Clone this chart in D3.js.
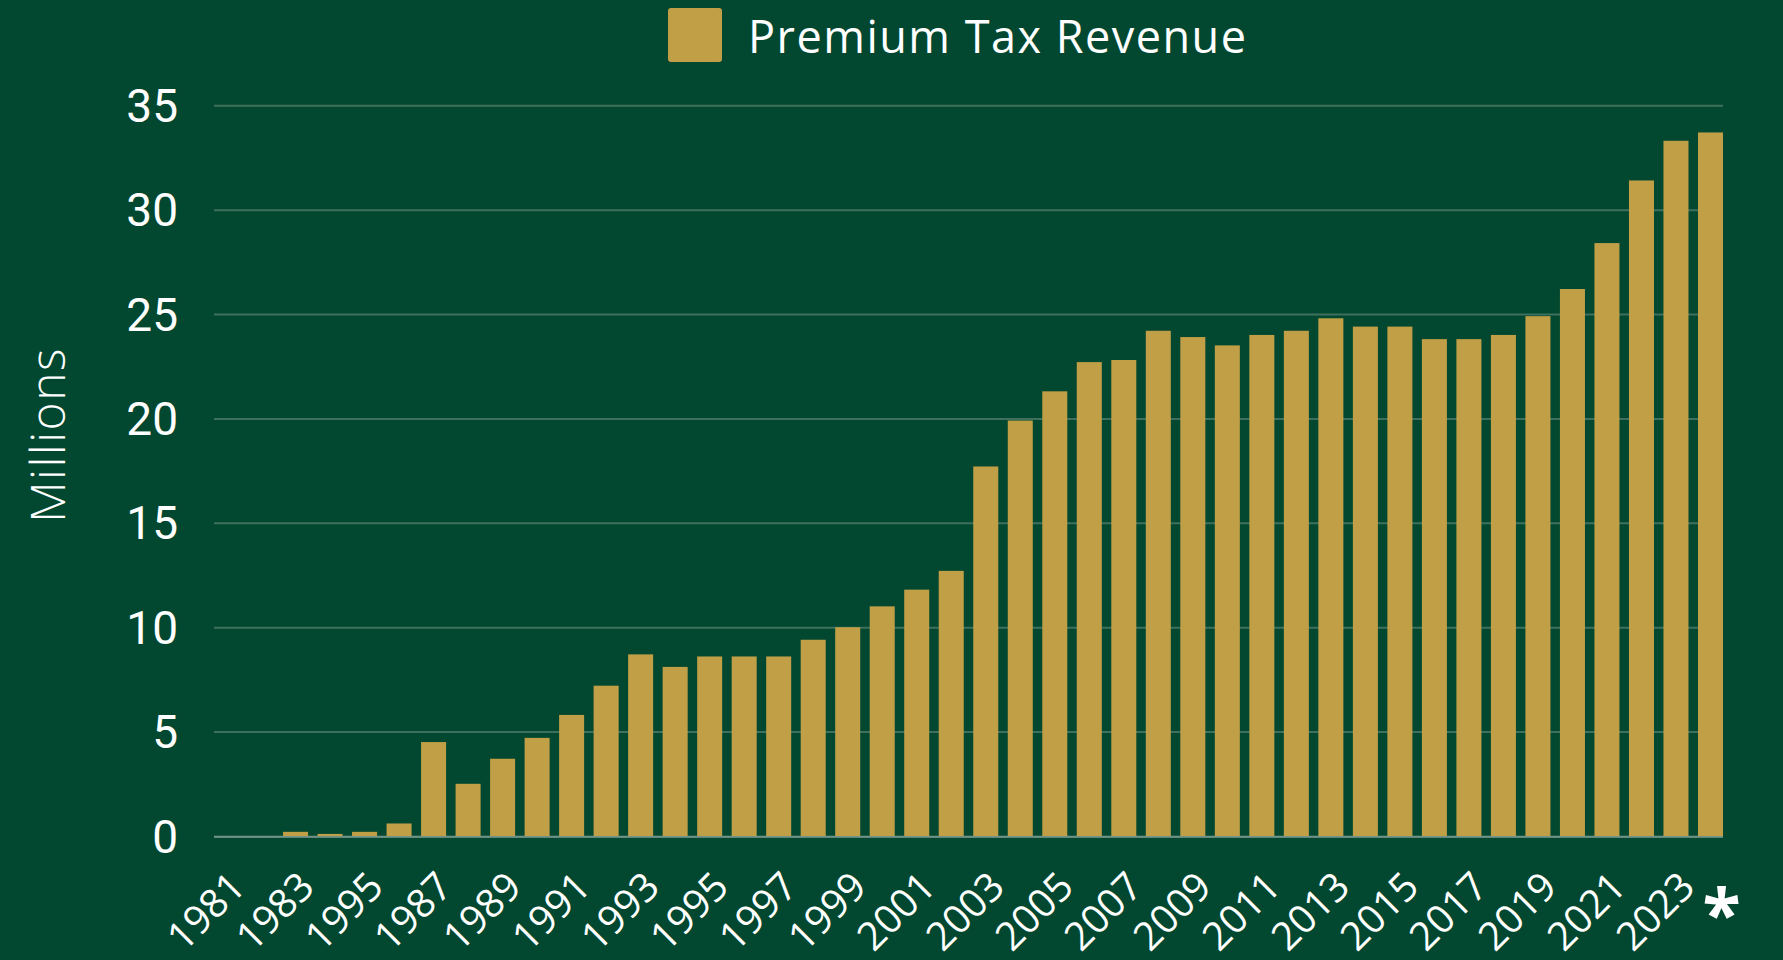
<!DOCTYPE html>
<html>
<head>
<meta charset="utf-8">
<script src="https://cdn.jsdelivr.net/npm/d3@7"></script>
<style>
    html, body { margin: 0; padding: 0; background: #02472f; overflow: hidden; }
    svg { display: block; }
</style>
</head>
<body>
<svg id="chart" width="1783" height="960"></svg>
<script>

// Categories (one bar per year)
var years = ["1981", "1982", "1983", "1984", "1985", "1986", "1987", "1988", "1989", "1990",
             "1991", "1992", "1993", "1994", "1995", "1996", "1997", "1998", "1999", "2000",
             "2001", "2002", "2003", "2004", "2005", "2006", "2007", "2008", "2009", "2010",
             "2011", "2012", "2013", "2014", "2015", "2016", "2017", "2018", "2019", "2020",
             "2021", "2022", "2023", "2024"];

// Premium tax revenue, millions
var revenue = [0, 0, 0.2, 0.1, 0.2, 0.6, 4.5, 2.5, 3.7, 4.7,
               5.8, 7.2, 8.7, 8.1, 8.6, 8.6, 8.6, 9.4, 10.0, 11.0,
               11.8, 12.7, 17.7, 19.9, 21.3, 22.7, 22.8, 24.2, 23.9, 23.5,
               24.0, 24.2, 24.8, 24.4, 24.4, 23.8, 23.8, 24.0, 24.9, 26.2,
               28.4, 31.4, 33.3, 33.7];

// Labelled ticks on the x axis (the chart prints "1995" under 1985)
var tickYears  = ["1981", "1983", "1985", "1987", "1989", "1991", "1993", "1995", "1997", "1999", "2001",
                  "2003", "2005", "2007", "2009", "2011", "2013", "2015", "2017", "2019", "2021", "2023"];
var tickLabels = ["1981", "1983", "1995", "1987", "1989", "1991", "1993", "1995", "1997", "1999", "2001",
                  "2003", "2005", "2007", "2009", "2011", "2013", "2015", "2017", "2019", "2021", "2023"];

var yTicks = [0, 5, 10, 15, 20, 25, 30, 35];
var seriesName = "Premium Tax Revenue";

var gold = '#c19f47';

var svg = d3.select('#chart');

svg.append('rect')
    .attr('width', 1783)
    .attr('height', 960)
    .attr('fill', '#02472f');

var x = d3.scaleBand()
    .domain(years)
    .range([214, 1723])
    .paddingInner(0.275)
    .paddingOuter(0);

var y = d3.scaleLinear()
    .domain([0, 35])
    .range([836, 105.3]);

//--------------------------------------------------------------
// Grid + y axis

var yAxis = d3.axisLeft(y)
    .tickValues(yTicks)
    .tickSize(-(1723 - 214))
    .tickPadding(36);

var gy = svg.append('g')
    .attr('transform', 'translate(214,0)')
    .call(yAxis);

gy.select('.domain').remove();

gy.selectAll('.tick line')
    .attr('stroke', '#3e705d')
    .attr('stroke-width', 2);

gy.selectAll('.tick text')
    .attr('fill', '#ffffff')
    .attr('font-family', 'Roboto, sans-serif')
    .attr('font-size', 46)
    .attr('dy', '0.35em');

// Zero line is a little lighter
svg.append('line')
    .attr('x1', 214)
    .attr('x2', 1723)
    .attr('y1', y(0) + 1)
    .attr('y2', y(0) + 1)
    .attr('stroke', '#a3b4b1')
    .attr('stroke-width', 1.2);

//--------------------------------------------------------------
// Bars

svg.append('g')
    .selectAll('rect')
    .data(years.map(function(d, i){ return {'year': d, 'value': revenue[i]}; }))
    .enter()
    .append('rect')
      .attr('x', function(d){ return x(d.year); })
      .attr('y', function(d){ return y(d.value); })
      .attr('width', x.bandwidth())
      .attr('height', function(d){ return y(0) - y(d.value); })
      .attr('fill', gold);

//--------------------------------------------------------------
// X labels, rotated

var xAxis = d3.axisBottom(x)
    .tickValues(tickYears)
    .tickFormat(function(d){ return tickLabels[tickYears.indexOf(d)]; })
    .tickSize(0);

var gx = svg.append('g')
    .call(xAxis);

gx.select('.domain').remove();

gx.selectAll('.tick text')
    .attr('fill', '#ffffff')
    .attr('font-family', '"Open Sans", sans-serif')
    .attr('font-weight', 500)
    .attr('font-size', 39.5)
    .attr('text-anchor', 'end')
    .attr('dy', null)
    .attr('y', null)
    .attr('transform', 'translate(21,889) rotate(-45)');

// Asterisk under the last bar
svg.append('text')
    .attr('x', x('2024') + x.bandwidth() / 2 + 11)
    .attr('y', 939)
    .attr('text-anchor', 'middle')
    .attr('fill', '#ffffff')
    .attr('font-family', '"Open Sans", sans-serif')
    .attr('font-weight', 'bold')
    .attr('font-size', 70)
    .text('*');

//--------------------------------------------------------------
// Axis title + legend

svg.append('text')
    .attr('transform', 'translate(65,435) rotate(-90)')
    .attr('text-anchor', 'middle')
    .attr('fill', '#ffffff')
    .attr('font-family', '"Open Sans", sans-serif')
    .attr('font-weight', 300)
    .attr('font-size', 48)
    .attr('letter-spacing', 1.5)
    .text('Millions');

var legend = svg.append('g');

legend.append('rect')
    .attr('x', 668)
    .attr('y', 8)
    .attr('width', 54)
    .attr('height', 54)
    .attr('rx', 3)
    .attr('fill', gold);

legend.append('text')
    .attr('x', 748)
    .attr('y', 53)
    .attr('fill', '#ffffff')
    .attr('font-family', '"Open Sans", sans-serif')
    .attr('font-weight', 500)
    .attr('font-size', 45)
    .attr('letter-spacing', 1.5)
    .text(seriesName);

</script>
</body>
</html>
